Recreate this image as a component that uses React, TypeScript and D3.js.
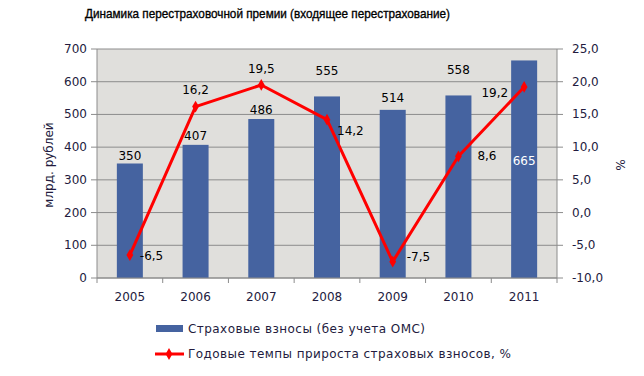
import React from "react";
import * as d3 from "d3";

const years = ["2005", "2006", "2007", "2008", "2009", "2010", "2011"];
const premiums = [350, 407, 486, 555, 514, 558, 665];
const growth = [-6.5, 16.2, 19.5, 14.2, -7.5, 8.6, 19.2];
const leftTicks = [0, 100, 200, 300, 400, 500, 600, 700];
const rightTicks = [-10, -5, 0, 5, 10, 15, 20, 25];
const title = "Динамика перестраховочной премии (входящее перестрахование)";
const legendBar = "Страховые взносы (без учета ОМС)";
const legendLine = "Годовые темпы прироста страховых взносов, %";

// label placement offsets per point (dx, dy baseline, anchor)
const growthLabelPos: [number, number, string][] = [
  [10, 4.5, "start"],
  [0, -12.5, "middle"],
  [0, -11.5, "middle"],
  [10, 15, "start"],
  [14, -1, "start"],
  [19, 3.5, "start"],
  [-16, 10.5, "end"],
];
const barLabelDy = [-4, -5, -5, -21, -8, -21, 0];

export default function App() {
  const W = 644, H = 376;
  const left = 97, right = 557, top = 49, bottom = 278;
  const band = d3.scaleBand<string>().domain(years).range([left, right]);
  const yL = d3.scaleLinear().domain([0, 700]).range([bottom, top]);
  const yR = d3.scaleLinear().domain([-10, 25]).range([bottom, top]);
  const font = "'DejaVu Sans', Verdana, sans-serif";
  const textColor = "#231b3e";
  const fmt = (v: number) => v.toFixed(1).replace(".", ",");
  const cx = (i: number) => band(years[i])! + band.bandwidth() / 2;
  const line = d3
    .line<number>()
    .x((_, i) => cx(i))
    .y((d) => yR(d));
  const diamond = d3.symbol().type(d3.symbolDiamond).size(40)();

  return (
    <svg width={W} height={H} style={{ position: "absolute", left: 0, top: 0 }} fontFamily={font}>
      <rect width={W} height={H} fill="#fff" />
      <text
        x={267.5}
        y={18}
        textAnchor="middle"
        fontSize={13}
        fontFamily="'Liberation Sans', Arial, sans-serif"
        fill="#000"
        stroke="#000"
        strokeWidth={0.35}
        textLength={365}
        lengthAdjust="spacingAndGlyphs"
      >
        {title}
      </text>
      <rect x={left} y={top} width={right - left} height={bottom - top} fill="#e0dfdc" />
      {leftTicks.map((t) => (
        <line key={t} x1={left} x2={right} y1={yL(t)} y2={yL(t)} stroke="#8c8c8c" strokeWidth={1} />
      ))}
      <line x1={right} x2={right} y1={top} y2={bottom} stroke="#8c8c8c" />
      {years.map((yr, i) => (
        <rect
          key={yr}
          x={cx(i) - 13}
          y={yL(premiums[i])}
          width={26}
          height={bottom - yL(premiums[i])}
          fill="#4563a0"
        />
      ))}
      {/* left axis */}
      <line x1={left} x2={left} y1={top} y2={bottom} stroke="#8c8c8c" />
      {leftTicks.map((t) => (
        <g key={t}>
          <line x1={left - 6} x2={left} y1={yL(t)} y2={yL(t)} stroke="#8c8c8c" />
          <text x={left - 10} y={yL(t) + 4} textAnchor="end" fontSize={12} fill={textColor}>
            {t}
          </text>
        </g>
      ))}
      {/* right axis */}
      {rightTicks.map((t) => (
        <g key={t}>
          <line x1={right} x2={right + 6} y1={yR(t)} y2={yR(t)} stroke="#8c8c8c" />
          <text x={right + 15} y={yR(t) + 4} textAnchor="start" fontSize={12} fill={textColor}>
            {fmt(t)}
          </text>
        </g>
      ))}
      {/* x axis */}
      <line x1={left} x2={right} y1={bottom} y2={bottom} stroke="#8c8c8c" />
      {years.map((yr) => (
        <line key={yr} x1={band(yr)!} x2={band(yr)!} y1={bottom} y2={bottom + 5} stroke="#8c8c8c" />
      ))}
      <line x1={right} x2={right} y1={bottom} y2={bottom + 5} stroke="#8c8c8c" />
      {years.map((yr, i) => (
        <text key={yr} x={cx(i)} y={301} textAnchor="middle" fontSize={12} fill={textColor}>
          {yr}
        </text>
      ))}
      {/* bar labels */}
      {years.map((yr, i) => (
        <text
          key={yr}
          x={cx(i)}
          y={i === 6 ? 164.5 : yL(premiums[i]) + barLabelDy[i]}
          textAnchor="middle"
          fontSize={12}
          fill={i === 6 ? "#ffffff" : "#000"}
        >
          {premiums[i]}
        </text>
      ))}
      {/* line */}
      <path d={line(growth)!} fill="none" stroke="#ff0000" strokeWidth={3} strokeLinejoin="round" />
      {growth.map((g, i) => (
        <path key={i} d={diamond!} transform={`translate(${cx(i)},${yR(g)})`} fill="#ff0000" />
      ))}
      {growth.map((g, i) => {
        const [dx, dy, anchor] = growthLabelPos[i];
        return (
          <text key={i} x={cx(i) + dx} y={yR(g) + dy} textAnchor={anchor as any} fontSize={12} fill="#000">
            {fmt(g)}
          </text>
        );
      })}
      {/* axis titles */}
      <text transform={`translate(53,165) rotate(-90)`} textAnchor="middle" fontSize={12} fill={textColor}>
        млрд. рублей
      </text>
      <text transform={`translate(616,165) rotate(90)`} textAnchor="middle" fontSize={12} fill={textColor}>
        %
      </text>
      {/* legend */}
      <rect x={156} y={325} width={27} height={7} fill="#4563a0" />
      <text x={188} y={333} fontSize={12} fill={textColor} textLength={237} lengthAdjust="spacing">
        {legendBar}
      </text>
      <line x1={155} x2={184} y1={354} y2={354} stroke="#ff0000" strokeWidth={3} />
      <path d={diamond!} transform="translate(169,354)" fill="#ff0000" />
      <text x={188} y={358} fontSize={12} fill={textColor} textLength={323} lengthAdjust="spacing">
        {legendLine}
      </text>
    </svg>
  );
}
